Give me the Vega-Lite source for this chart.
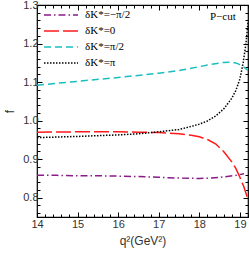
{
  "$schema": "https://vega.github.io/schema/vega-lite/v6.json",
  "width": 211,
  "height": 212,
  "autosize": {"type": "none"},
  "padding": {"left": 37, "top": 5, "right": 1, "bottom": 37},
  "config": {
    "view": {"stroke": "#000", "strokeWidth": 1.2},
    "axis": {
      "domain": false,
      "grid": false,
      "labelFont": "Liberation Sans",
      "labelFontSize": 11,
      "labelColor": "#333",
      "tickColor": "#000",
      "tickWidth": 1,
      "labelOverlap": false,
      "labelFlush": false,
      "titleFont": "Liberation Sans",
      "titleFontWeight": "normal",
      "titleFontSize": 12,
      "titleColor": "#333"
    }
  },
  "datasets": {
    "curves": [
      {"q2": 14.0, "f": 0.858, "delta": "δK*=−π/2"},
      {"q2": 14.5, "f": 0.858, "delta": "δK*=−π/2"},
      {"q2": 15.0, "f": 0.857, "delta": "δK*=−π/2"},
      {"q2": 15.5, "f": 0.857, "delta": "δK*=−π/2"},
      {"q2": 16.0, "f": 0.856, "delta": "δK*=−π/2"},
      {"q2": 16.5, "f": 0.855, "delta": "δK*=−π/2"},
      {"q2": 17.0, "f": 0.853, "delta": "δK*=−π/2"},
      {"q2": 17.5, "f": 0.851, "delta": "δK*=−π/2"},
      {"q2": 18.0, "f": 0.850, "delta": "δK*=−π/2"},
      {"q2": 18.3, "f": 0.851, "delta": "δK*=−π/2"},
      {"q2": 18.6, "f": 0.854, "delta": "δK*=−π/2"},
      {"q2": 18.9, "f": 0.858, "delta": "δK*=−π/2"},
      {"q2": 19.1, "f": 0.862, "delta": "δK*=−π/2"},

      {"q2": 14.0, "f": 0.970, "delta": "δK*=0"},
      {"q2": 15.0, "f": 0.971, "delta": "δK*=0"},
      {"q2": 16.0, "f": 0.971, "delta": "δK*=0"},
      {"q2": 16.5, "f": 0.970, "delta": "δK*=0"},
      {"q2": 17.0, "f": 0.969, "delta": "δK*=0"},
      {"q2": 17.5, "f": 0.966, "delta": "δK*=0"},
      {"q2": 17.8, "f": 0.962, "delta": "δK*=0"},
      {"q2": 18.0, "f": 0.958, "delta": "δK*=0"},
      {"q2": 18.2, "f": 0.951, "delta": "δK*=0"},
      {"q2": 18.4, "f": 0.940, "delta": "δK*=0"},
      {"q2": 18.6, "f": 0.920, "delta": "δK*=0"},
      {"q2": 18.8, "f": 0.893, "delta": "δK*=0"},
      {"q2": 18.9, "f": 0.876, "delta": "δK*=0"},
      {"q2": 19.0, "f": 0.853, "delta": "δK*=0"},
      {"q2": 19.1, "f": 0.828, "delta": "δK*=0"},
      {"q2": 19.2, "f": 0.795, "delta": "δK*=0"},

      {"q2": 14.0, "f": 1.092, "delta": "δK*=π/2"},
      {"q2": 15.0, "f": 1.102, "delta": "δK*=π/2"},
      {"q2": 16.0, "f": 1.112, "delta": "δK*=π/2"},
      {"q2": 17.0, "f": 1.123, "delta": "δK*=π/2"},
      {"q2": 17.5, "f": 1.130, "delta": "δK*=π/2"},
      {"q2": 18.0, "f": 1.140, "delta": "δK*=π/2"},
      {"q2": 18.3, "f": 1.146, "delta": "δK*=π/2"},
      {"q2": 18.6, "f": 1.151, "delta": "δK*=π/2"},
      {"q2": 18.8, "f": 1.152, "delta": "δK*=π/2"},
      {"q2": 18.95, "f": 1.148, "delta": "δK*=π/2"},
      {"q2": 19.1, "f": 1.139, "delta": "δK*=π/2"},
      {"q2": 19.2, "f": 1.130, "delta": "δK*=π/2"},

      {"q2": 14.0, "f": 0.956, "delta": "δK*=π"},
      {"q2": 15.0, "f": 0.959, "delta": "δK*=π"},
      {"q2": 16.0, "f": 0.963, "delta": "δK*=π"},
      {"q2": 16.5, "f": 0.966, "delta": "δK*=π"},
      {"q2": 17.0, "f": 0.971, "delta": "δK*=π"},
      {"q2": 17.5, "f": 0.977, "delta": "δK*=π"},
      {"q2": 17.8, "f": 0.985, "delta": "δK*=π"},
      {"q2": 18.0, "f": 0.991, "delta": "δK*=π"},
      {"q2": 18.2, "f": 0.999, "delta": "δK*=π"},
      {"q2": 18.4, "f": 1.012, "delta": "δK*=π"},
      {"q2": 18.6, "f": 1.030, "delta": "δK*=π"},
      {"q2": 18.8, "f": 1.058, "delta": "δK*=π"},
      {"q2": 18.9, "f": 1.078, "delta": "δK*=π"},
      {"q2": 19.0, "f": 1.108, "delta": "δK*=π"},
      {"q2": 19.08, "f": 1.150, "delta": "δK*=π"},
      {"q2": 19.15, "f": 1.200, "delta": "δK*=π"},
      {"q2": 19.2, "f": 1.255, "delta": "δK*=π"}
    ]
  },
  "layer": [
    {
      "data": {"name": "curves"},
      "mark": {"type": "line", "strokeWidth": 1.5, "clip": true},
      "encoding": {
        "x": {
          "field": "q2",
          "type": "quantitative",
          "scale": {"domain": [14, 19.2], "nice": false, "zero": false},
          "axis": {
            "orient": "bottom",
            "title": "q²(GeV²)",
            "titlePadding": 4,
            "values": [14, 14.2, 14.4, 14.6, 14.8, 15, 15.2, 15.4, 15.6, 15.8, 16, 16.2, 16.4, 16.6, 16.8, 17, 17.2, 17.4, 17.6, 17.8, 18, 18.2, 18.4, 18.6, 18.8, 19, 19.2],
            "labelExpr": "abs(datum.value - round(datum.value)) < 1e-6 ? format(datum.value, '.0f') : ''",
            "tickSize": {"condition": {"test": "abs(datum.value - round(datum.value)) < 1e-6", "value": -5}, "value": -3},
            "labelPadding": 6
          }
        },
        "y": {
          "field": "f",
          "type": "quantitative",
          "scale": {"domain": [0.75, 1.3], "nice": false, "zero": false},
          "axis": {
            "orient": "left",
            "title": "f",
            "titlePadding": 6,
            "values": [0.76, 0.78, 0.8, 0.82, 0.84, 0.86, 0.88, 0.9, 0.92, 0.94, 0.96, 0.98, 1.0, 1.02, 1.04, 1.06, 1.08, 1.1, 1.12, 1.14, 1.16, 1.18, 1.2, 1.22, 1.24, 1.26, 1.28, 1.3],
            "labelExpr": "abs(datum.value * 10 - round(datum.value * 10)) < 1e-6 ? format(datum.value, '.1f') : ''",
            "tickSize": {"condition": {"test": "abs(datum.value * 10 - round(datum.value * 10)) < 1e-6", "value": -5}, "value": -3},
            "labelPadding": 4
          }
        },
        "color": {
          "field": "delta",
          "type": "nominal",
          "scale": {
            "domain": ["δK*=−π/2", "δK*=0", "δK*=π/2", "δK*=π"],
            "range": ["#8B1A8B", "#FF1A1A", "#1ABEBE", "#000000"]
          },
          "legend": {
            "title": null,
            "orient": "none",
            "legendX": 18,
            "legendY": 4,
            "symbolType": "M-3.4,0H3.4",
            "symbolSize": 100,
            "symbolStrokeWidth": 1.5,
            "labelFont": "Liberation Serif",
            "labelFontSize": 11,
            "labelColor": "#000",
            "labelOffset": 18,
            "rowPadding": 5,
            "padding": 0
          }
        },
        "strokeDash": {
          "field": "delta",
          "type": "nominal",
          "scale": {
            "domain": ["δK*=−π/2", "δK*=0", "δK*=π/2", "δK*=π"],
            "range": [[7, 3, 1.5, 3], [15, 4], [7, 4], [1.5, 1.5]]
          },
          "legend": {
            "title": null,
            "orient": "none",
            "legendX": 18,
            "legendY": 4,
            "symbolType": "M-3.4,0H3.4",
            "symbolSize": 100,
            "symbolStrokeWidth": 1.5,
            "labelFont": "Liberation Serif",
            "labelFontSize": 11,
            "labelColor": "#000",
            "labelOffset": 18,
            "rowPadding": 5,
            "padding": 0
          }
        }
      }
    },
    {
      "data": {"values": [{}]},
      "mark": {"type": "text", "font": "Liberation Serif", "fontSize": 11, "color": "#000"},
      "encoding": {
        "x": {
          "datum": 18.58,
          "type": "quantitative",
          "axis": {
            "orient": "top",
            "title": null,
            "labels": false,
            "values": [14, 14.2, 14.4, 14.6, 14.8, 15, 15.2, 15.4, 15.6, 15.8, 16, 16.2, 16.4, 16.6, 16.8, 17, 17.2, 17.4, 17.6, 17.8, 18, 18.2, 18.4, 18.6, 18.8, 19, 19.2],
            "tickSize": {"condition": {"test": "abs(datum.value - round(datum.value)) < 1e-6", "value": -5}, "value": -3}
          }
        },
        "y": {
          "datum": 1.27,
          "type": "quantitative",
          "axis": {
            "orient": "right",
            "title": null,
            "labels": false,
            "values": [0.76, 0.78, 0.8, 0.82, 0.84, 0.86, 0.88, 0.9, 0.92, 0.94, 0.96, 0.98, 1.0, 1.02, 1.04, 1.06, 1.08, 1.1, 1.12, 1.14, 1.16, 1.18, 1.2, 1.22, 1.24, 1.26, 1.28, 1.3],
            "tickSize": {"condition": {"test": "abs(datum.value * 10 - round(datum.value * 10)) < 1e-6", "value": -5}, "value": -3}
          }
        },
        "text": {"value": "P−cut"}
      }
    }
  ],
  "resolve": {"axis": {"x": "independent", "y": "independent"}}
}
